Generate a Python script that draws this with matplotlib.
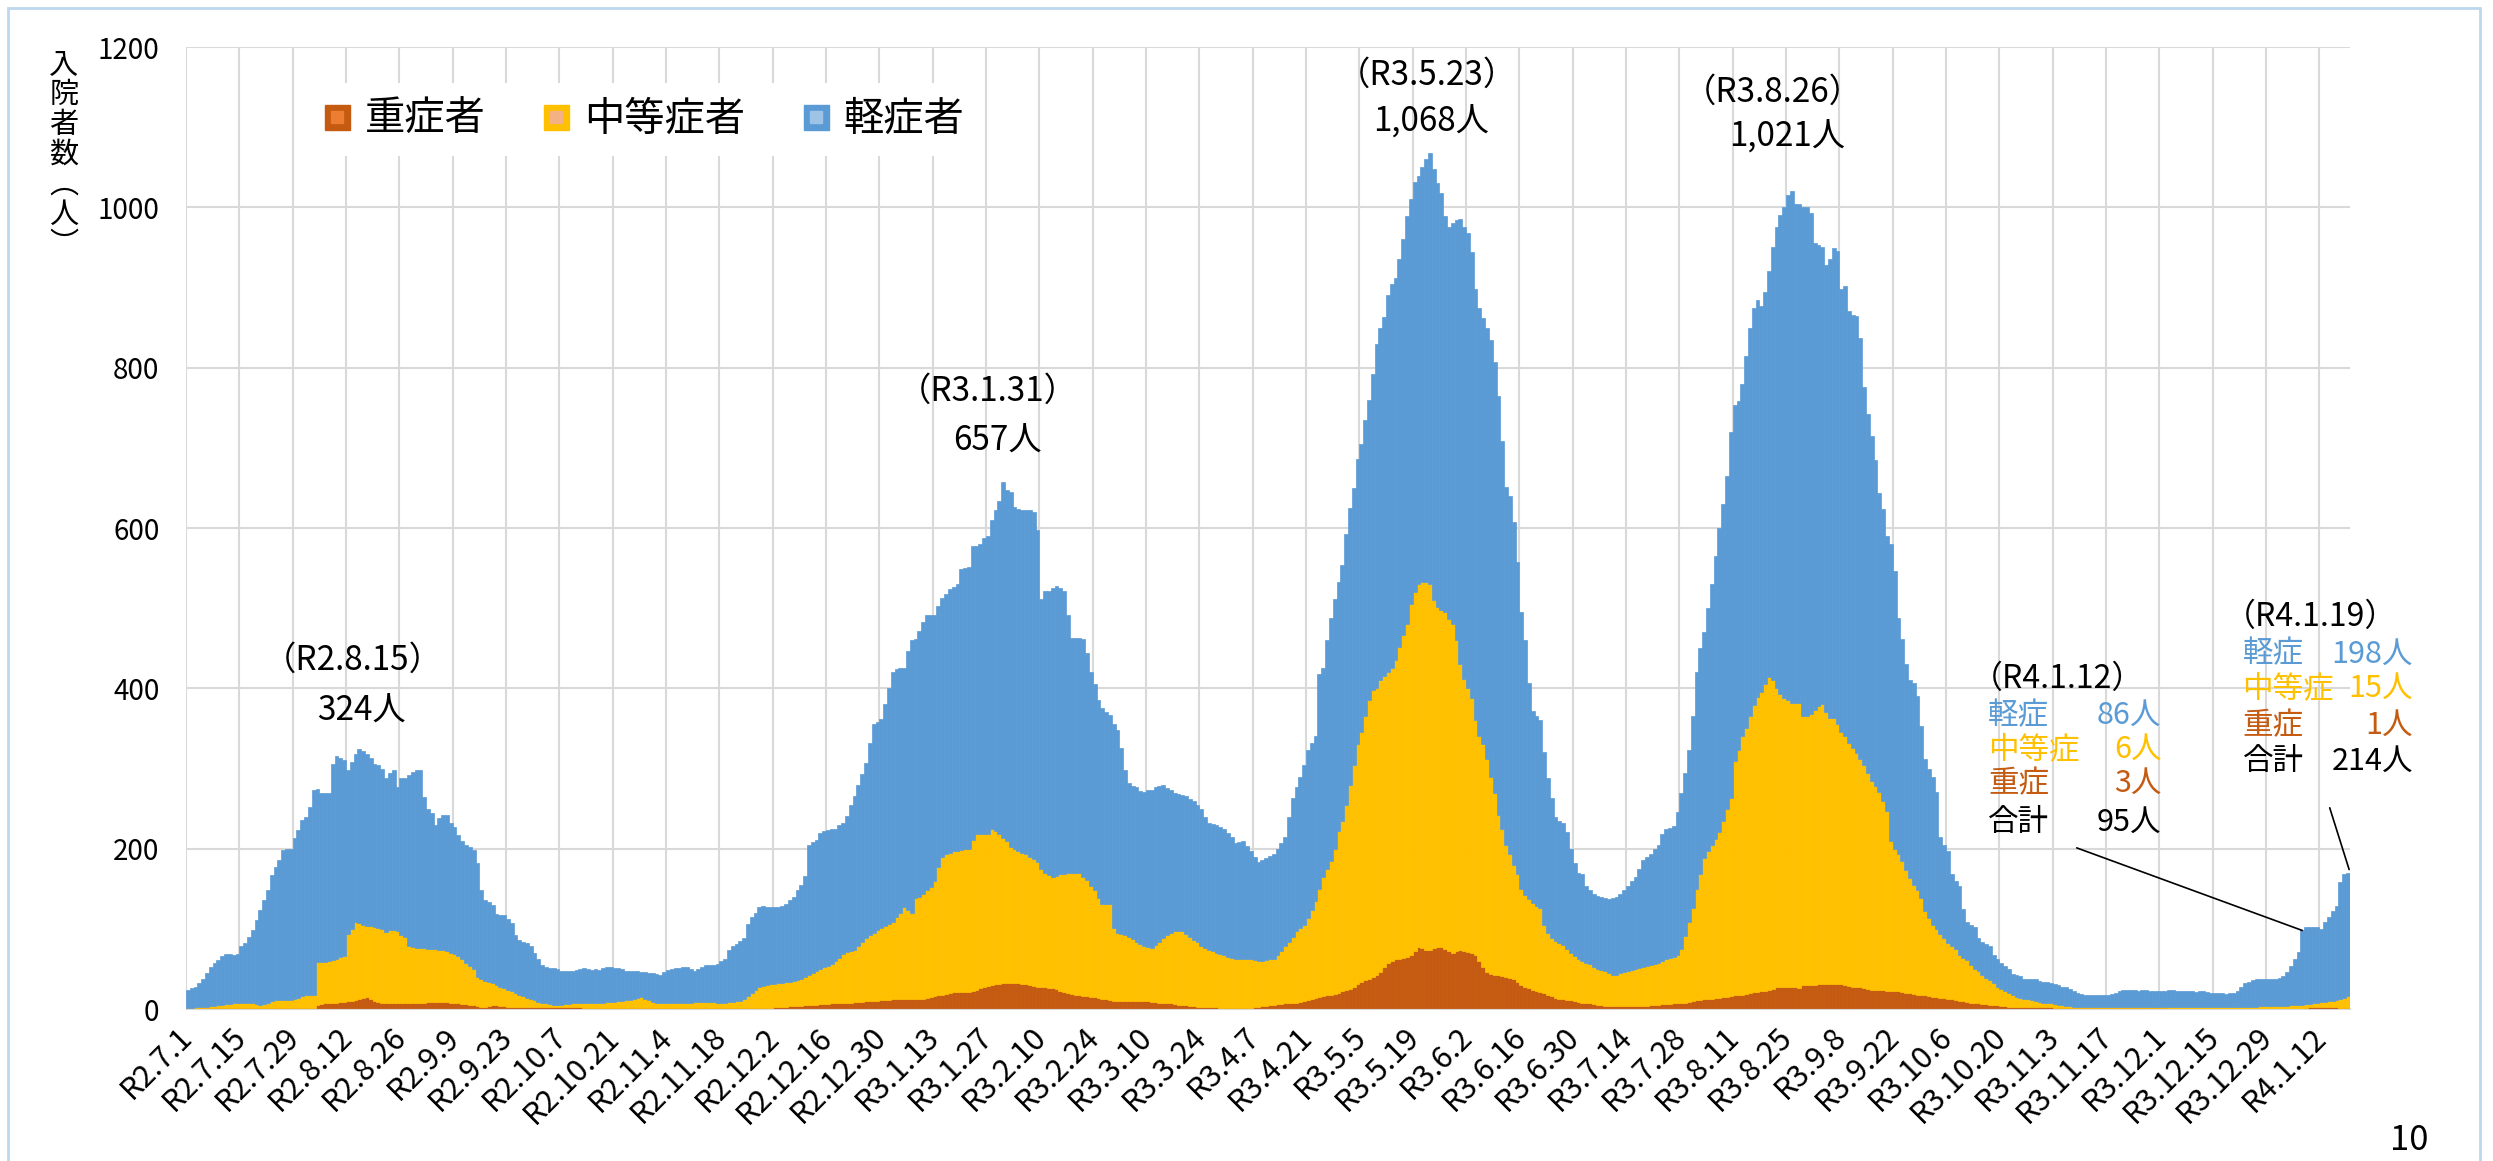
import numpy as np
import matplotlib
matplotlib.use("Agg")
import matplotlib.pyplot as plt
from matplotlib.lines import Line2D
from matplotlib.legend_handler import HandlerTuple
from matplotlib.patches import Rectangle

plt.rcParams['font.family'] = ['Noto Sans CJK JP', 'DejaVu Sans']

# x tick labels, every 14 days from R2.7.1
tick_labels = ["R2.7.1", "R2.7.15", "R2.7.29", "R2.8.12", "R2.8.26", "R2.9.9", "R2.9.23",
               "R2.10.7", "R2.10.21", "R2.11.4", "R2.11.18", "R2.12.2", "R2.12.16", "R2.12.30",
               "R3.1.13", "R3.1.27", "R3.2.10", "R3.2.24", "R3.3.10", "R3.3.24", "R3.4.7",
               "R3.4.21", "R3.5.5", "R3.5.19", "R3.6.2", "R3.6.16", "R3.6.30", "R3.7.14",
               "R3.7.28", "R3.8.11", "R3.8.25", "R3.9.8", "R3.9.22", "R3.10.6", "R3.10.20",
               "R3.11.3", "R3.11.17", "R3.12.1", "R3.12.15", "R3.12.29", "R4.1.12"]

# daily inpatients, R2.7.1 - R4.1.19
severe = (
    [1] * 14 +
    [1] * 14 +
    [1, 1, 1, 1, 1, 1, 5, 6, 7, 7, 8, 8, 9, 9] +
    [10, 10, 11, 12, 14, 15, 12, 10, 9, 8, 8, 7, 7, 7] +
    [7, 7, 7, 7, 7, 8, 8, 9, 9, 9, 9, 9, 9, 8] +
    [8, 7, 6, 6, 5, 5, 4, 3, 3, 4, 5, 5, 4, 4] +
    [3, 3, 3, 3, 3, 3, 3, 2, 2, 2, 2, 2, 2, 2] +
    [2, 2, 2, 2, 2, 2, 1, 1, 1, 1, 1, 1, 1, 1] +
    [1] * 14 +
    [1] * 14 +
    [1] * 14 +
    [2, 3, 3, 3, 4, 4, 4, 4, 5, 5, 5, 5, 6, 6] +
    [6, 7, 7, 7, 8, 8, 8, 9, 9, 9, 10, 10, 10, 10] +
    [11, 11, 11, 12, 12, 12, 12, 12, 12, 12, 12, 13, 14, 15] +
    [16, 17, 18, 19, 20, 21, 21, 21, 21, 21, 22, 24, 26, 28] +
    [29, 30, 31, 31, 32, 33, 33, 33, 32, 31, 31, 30, 29, 28] +
    [28, 27, 26, 26, 25, 23, 21, 20, 19, 18, 17, 16, 16, 15] +
    [15, 14, 13, 12, 11, 10, 10, 10, 10, 10, 10, 10, 10, 10] +
    [10, 9, 9, 8, 8, 8, 7, 6, 5, 5, 5, 4, 4, 3] +
    [3, 3, 2, 2, 2, 1, 1, 1, 1, 1, 1, 1, 1, 1] +
    [2, 3, 4, 4, 5, 5, 6, 6, 7, 7, 8, 8, 9, 10] +
    [11, 12, 14, 15, 16, 17, 18, 19, 20, 22, 24, 25, 28, 31] +
    [34, 36, 38, 40, 42, 46, 52, 58, 60, 62, 63, 64, 65, 67] +
    [72, 77, 76, 74, 74, 76, 77, 77, 75, 72, 70, 72, 74, 73] +
    [71, 70, 68, 60, 52, 46, 44, 42, 42, 41, 40, 39, 38, 34] +
    [30, 28, 26, 24, 22, 21, 20, 18, 16, 14, 13, 12, 11, 11] +
    [10, 9, 8, 7, 7, 6, 5, 5, 4, 4, 4, 4, 4, 4] +
    [4, 4, 4, 4, 4, 4, 5, 5, 5, 6, 6, 6, 7, 7] +
    [8, 8, 9, 10, 11, 11, 12, 13, 13, 14, 14, 15, 15, 16] +
    [17, 18, 18, 19, 20, 21, 21, 22, 23, 24, 25, 27, 28, 28] +
    [28, 28, 27, 26, 30, 30, 30, 30, 31, 31, 31, 31, 31, 31] +
    [31, 30, 29, 28, 27, 27, 26, 25, 24, 24, 24, 24, 23, 23] +
    [23, 22, 21, 20, 20, 19, 18, 17, 17, 16, 15, 15, 14, 14] +
    [13, 12, 11, 10, 10, 9, 8, 7, 7, 6, 6, 5, 5, 5] +
    [4, 4, 3, 3, 3, 2, 2, 2, 2, 2, 2, 2, 2, 2] +
    [1] * 14 +
    [1] * 14 +
    [1, 1] + [0] * 12 +
    [0] * 14 +
    [0] * 10 + [1, 2, 2, 3] +
    [3, 3, 2, 2, 2, 1, 1, 1]
)

moderate = (
    [0, 0, 1, 1, 2, 2, 3, 3, 4, 4, 5, 5, 6, 6] +
    [6, 6, 6, 6, 5, 4, 5, 7, 9, 10, 10, 10, 10, 10] +
    [11, 13, 15, 16, 16, 17, 54, 53, 52, 53, 53, 54, 56, 57] +
    [84, 90, 98, 95, 91, 89, 91, 92, 92, 92, 88, 91, 92, 90] +
    [85, 83, 71, 70, 69, 68, 68, 66, 66, 66, 65, 65, 64, 62] +
    [61, 59, 56, 52, 49, 45, 36, 35, 32, 30, 27, 25, 24, 22] +
    [21, 19, 17, 15, 13, 11, 10, 9, 7, 6, 5, 4, 3, 3] +
    [3, 4, 4, 5, 5, 5, 6, 6, 6, 6, 7, 7, 8, 8] +
    [8, 9, 9, 10, 10, 11, 13, 14, 12, 10, 8, 6, 6, 6] +
    [6, 6, 6, 6, 6, 7, 7, 8, 8, 8, 8, 8, 8, 7] +
    [7, 7, 8, 8, 9, 9, 12, 15, 19, 23, 26, 28, 29, 30] +
    [29, 29, 30, 31, 30, 31, 32, 34, 35, 37, 40, 43, 44, 47] +
    [48, 49, 53, 57, 61, 63, 65, 65, 69, 74, 78, 82, 85, 88] +
    [90, 92, 95, 96, 103, 108, 115, 112, 108, 126, 128, 130, 134, 137] +
    [144, 160, 172, 174, 175, 176, 176, 177, 178, 179, 189, 194, 192, 190] +
    [189, 195, 191, 187, 181, 177, 169, 166, 165, 164, 162, 160, 158, 156] +
    [147, 143, 141, 139, 141, 145, 147, 150, 151, 152, 153, 149, 145, 139] +
    [133, 124, 118, 119, 120, 91, 85, 83, 82, 80, 77, 74, 71, 69] +
    [67, 67, 71, 76, 80, 84, 88, 91, 92, 92, 88, 86, 82, 80] +
    [76, 73, 72, 70, 68, 68, 66, 64, 63, 62, 62, 62, 62, 61] +
    [59, 57, 56, 57, 57, 58, 61, 66, 71, 77, 82, 89, 92, 95] +
    [103, 111, 121, 135, 149, 158, 167, 181, 202, 213, 231, 255, 277, 299] +
    [311, 329, 347, 358, 358, 364, 364, 363, 366, 373, 389, 403, 415, 438] +
    [448, 453, 457, 459, 456, 434, 425, 421, 420, 415, 410, 388, 356, 339] +
    [329, 318, 292, 280, 278, 266, 246, 228, 200, 184, 165, 154, 142, 134] +
    [120, 114, 111, 108, 106, 105, 85, 77, 72, 71, 69, 68, 64, 59] +
    [56, 53, 52, 51, 49, 47, 45, 44, 43, 41, 39, 39, 41, 42] +
    [43, 45, 46, 47, 49, 50, 50, 51, 53, 54, 57, 58, 58, 60] +
    [67, 83, 99, 116, 139, 157, 177, 184, 191, 198, 207, 220, 235, 247] +
    [292, 305, 322, 332, 345, 358, 368, 374, 382, 390, 386, 373, 365, 360] +
    [358, 354, 355, 356, 335, 336, 338, 343, 347, 349, 339, 332, 332, 325] +
    [314, 310, 303, 297, 292, 285, 279, 270, 261, 254, 247, 236, 224, 187] +
    [177, 171, 164, 153, 143, 136, 131, 121, 105, 97, 90, 85, 79, 74] +
    [69, 66, 64, 58, 54, 52, 47, 43, 40, 37, 33, 31, 27, 23] +
    [21, 19, 17, 14, 12, 12, 11, 10, 9, 8, 7, 6, 5, 5] +
    [5, 4, 4, 3, 3, 2, 2, 2, 2, 1, 1, 1, 1, 1] +
    [1] * 14 +
    [1, 1] + [2] * 12 +
    [2, 2, 2, 2, 2, 2, 3, 3, 3, 3, 3, 3, 4, 4] +
    [4, 4, 4, 4, 4, 4, 5, 5, 5, 5, 5, 4, 5, 5] +
    [6, 6, 8, 8, 9, 11, 13, 15]
)

total = (
    [24, 26, 28, 33, 38, 45, 53, 57, 61, 66, 69, 69, 68, 69] +
    [78, 82, 90, 98, 111, 123, 136, 148, 167, 177, 186, 198, 199, 200] +
    [213, 223, 236, 240, 252, 273, 275, 270, 269, 269, 306, 315, 313, 311] +
    [298, 308, 318, 324, 322, 318, 313, 306, 304, 300, 288, 294, 298, 277] +
    [288, 288, 292, 296, 298, 298, 265, 250, 244, 230, 238, 242, 242, 232] +
    [227, 217, 210, 205, 202, 198, 182, 148, 136, 133, 130, 119, 117, 117] +
    [112, 107, 92, 86, 84, 82, 78, 70, 63, 55, 52, 51, 51, 50] +
    [47, 47, 47, 48, 49, 50, 51, 50, 49, 50, 49, 51, 52, 52] +
    [51, 51, 50, 48, 47, 47, 47, 46, 46, 45, 45, 44, 42, 46] +
    [49, 50, 51, 51, 52, 53, 50, 47, 50, 53, 55, 55, 55, 56] +
    [60, 63, 74, 78, 81, 85, 88, 106, 115, 120, 127, 128, 127, 127] +
    [127, 127, 129, 131, 136, 140, 149, 155, 166, 204, 208, 211, 220, 222] +
    [223, 224, 225, 229, 232, 241, 255, 266, 280, 293, 307, 332, 355, 358] +
    [362, 380, 401, 421, 424, 425, 426, 447, 460, 462, 472, 483, 492, 492] +
    [492, 503, 513, 518, 524, 527, 530, 549, 550, 552, 577, 577, 580, 588] +
    [590, 610, 623, 634, 657, 648, 645, 626, 624, 623, 623, 622, 620, 597] +
    [511, 521, 521, 525, 528, 525, 521, 491, 463, 463, 463, 462, 444, 421] +
    [405, 386, 375, 371, 367, 355, 348, 325, 298, 282, 278, 277, 272, 271] +
    [273, 273, 277, 278, 280, 276, 273, 270, 268, 267, 266, 262, 259, 254] +
    [250, 240, 232, 231, 230, 227, 225, 220, 214, 207, 208, 209, 203, 197] +
    [190, 184, 186, 189, 191, 193, 200, 207, 214, 240, 263, 277, 290, 305] +
    [323, 332, 340, 418, 425, 460, 488, 512, 533, 554, 593, 625, 650, 686] +
    [705, 735, 760, 792, 830, 850, 863, 891, 905, 912, 935, 961, 989, 1011] +
    [1032, 1039, 1050, 1060, 1068, 1048, 1030, 1018, 989, 975, 980, 984, 986, 975] +
    [968, 944, 898, 874, 862, 850, 835, 807, 765, 709, 651, 640, 607, 558] +
    [495, 460, 407, 372, 365, 360, 320, 288, 263, 239, 235, 232, 221, 200] +
    [182, 170, 168, 154, 148, 144, 141, 140, 138, 137, 139, 140, 144, 148] +
    [154, 160, 165, 175, 186, 190, 193, 200, 204, 218, 225, 226, 228, 246] +
    [270, 295, 323, 365, 421, 450, 470, 500, 530, 565, 600, 630, 665, 720] +
    [754, 758, 780, 815, 850, 875, 884, 877, 895, 920, 950, 975, 990, 1000] +
    [1015, 1021, 1004, 1004, 1000, 1000, 993, 955, 953, 951, 928, 936, 949, 946] +
    [898, 902, 871, 866, 864, 837, 776, 742, 715, 685, 644, 624, 590, 580] +
    [546, 488, 461, 430, 410, 407, 390, 353, 312, 300, 290, 271, 214, 205] +
    [197, 169, 160, 153, 125, 108, 105, 102, 88, 84, 81, 78, 68, 63] +
    [58, 54, 50, 44, 42, 41, 38, 37, 37, 37, 35, 34, 34, 33] +
    [31, 30, 28, 27, 25, 22, 20, 19, 18, 17, 17, 17, 17, 17] +
    [18, 19, 20, 22, 24, 24, 24, 24, 23, 24, 24, 23, 22, 22] +
    [22, 23, 24, 24, 23, 22, 22, 22, 22, 21, 22, 22, 21, 20] +
    [20, 20, 20, 19, 20, 20, 22, 27, 32, 34, 36, 37, 37, 37] +
    [37, 37, 37, 39, 41, 46, 54, 62, 71, 98, 102, 102, 102, 102] +
    [100, 108, 115, 122, 129, 159, 169, 170]
)

sev = np.array(severe)
mod = np.array(moderate)
tot = np.array(total)
mild = tot - sev - mod
days = np.arange(len(tot))

C_SEV = "#C55A11"
C_MOD = "#FFC000"
C_MILD = "#5B9BD5"

fig = plt.figure(figsize=(24.93, 11.61), dpi=100)
ax = fig.add_axes([0.0746, 0.1309, 0.8680, 0.8286])

ax.bar(days, sev, width=1.0, color=C_SEV, edgecolor=C_SEV, linewidth=0.5)
ax.bar(days, mod, width=1.0, bottom=sev, color=C_MOD, edgecolor=C_MOD, linewidth=0.5)
ax.bar(days, mild, width=1.0, bottom=sev + mod, color=C_MILD, edgecolor=C_MILD, linewidth=0.5)

ax.set_xlim(-0.5, len(tot) - 0.5)
ax.set_ylim(0, 1200)
ax.set_yticks(range(0, 1201, 200))
ax.set_xticks(np.arange(0, len(tick_labels) * 14, 14))
ax.set_xticklabels(tick_labels, rotation=45, ha="right", va="center",
                   rotation_mode="anchor", fontsize=22)
ax.set_xticks(np.arange(-0.5, len(tot), 14), minor=True)
ax.grid(axis="y", color="#D9D9D9", linewidth=1.5)
ax.grid(axis="x", which="minor", color="#D9D9D9", linewidth=1.5)
ax.set_axisbelow(True)
ax.tick_params(axis="both", which="both", length=0)
ax.tick_params(axis="y", labelsize=20, pad=19)
ax.tick_params(axis="x", pad=17)
for s in ["top", "right", "left"]:
    ax.spines[s].set_visible(False)
ax.spines["bottom"].set_color("#D9D9D9")

# y label, written vertically
fig.text(64 / 2493, 1 - 155 / 1161, "入\n院\n者\n数\n︵\n人\n︶", ha="center", va="center",
         fontsize=21, linespacing=1.0)

# legend
handles = [
    (Line2D([], [], ls="", marker="s", ms=18, mfc=C_SEV, mec=C_SEV),
     Line2D([], [], ls="", marker="s", ms=8, mfc="#ED7D31", mec="#ED7D31")),
    (Line2D([], [], ls="", marker="s", ms=18, mfc=C_MOD, mec=C_MOD),
     Line2D([], [], ls="", marker="s", ms=8, mfc="#F4B183", mec="#F4B183")),
    (Line2D([], [], ls="", marker="s", ms=18, mfc=C_MILD, mec=C_MILD),
     Line2D([], [], ls="", marker="s", ms=8, mfc="#9DC3E6", mec="#9DC3E6")),
]
ax.legend(handles, ["重症者", "中等症者", "軽症者"], handler_map={tuple: HandlerTuple(ndivide=1)},
          loc="center", bbox_to_anchor=(0.211, 0.925), ncol=3, fontsize=29,
          frameon=True, facecolor="white", edgecolor="none", framealpha=1, fancybox=False,
          handlelength=0.8, handletextpad=0.3, columnspacing=1.35, borderpad=0.4)

# peak annotations
peaks = [
    (43.4, 435, "（R2.8.15）", 45.5, 372, "324人"),
    (209.9, 771, "（R3.1.31）", 212.4, 709, "657人"),
    (325.2, 1165, "（R3.5.23）", 326.4, 1106, "1,068人"),
    (416.0, 1144, "（R3.8.26）", 419.8, 1088, "1,021人"),
]
for x1, y1, t1, x2, y2, t2 in peaks:
    ax.text(x1, y1, t1, ha="center", va="center", fontsize=24)
    ax.text(x2, y2, t2, ha="center", va="center", fontsize=24)

# latest-day breakdown boxes
row_colors = [C_MILD, C_MOD, C_SEV, "black"]
blocks = [
    (468.0, 412, "（R4.1.12）", 472.5, 518.0, [366, 324, 281, 233],
     ["軽症", "中等症", "重症", "合計"], ["86人", "6人", "3人", "95人"]),
    (534.5, 489, "（R4.1.19）", 539.3, 584.0, [443, 400, 354, 309],
     ["軽症", "中等症", "重症", "合計"], ["198人", "15人", "1人", "214人"]),
]
for hx, hy, head, lx, rx, ys, names, vals in blocks:
    ax.text(hx, hy, head, ha="left", va="center", fontsize=23)
    for y, n, v, c in zip(ys, names, vals, row_colors):
        ax.text(lx, y, n, ha="left", va="center", fontsize=22, color=c)
        ax.text(rx, y, v, ha="right", va="center", fontsize=22, color=c)

ax.annotate("", xy=(555, tot[555]), xytext=(495.8, 201),
            arrowprops=dict(arrowstyle="-", color="black", lw=1.2, shrinkA=0, shrinkB=0))
ax.annotate("", xy=(567.3, tot[-1] + 4), xytext=(562.2, 251),
            arrowprops=dict(arrowstyle="-", color="black", lw=1.2, shrinkA=0, shrinkB=0),
            annotation_clip=False)

# slide frame and page number
fig.add_artist(Rectangle((8 / 2493, -0.1), (2480 - 8) / 2493, 1.1 - 8 / 1161,
                         transform=fig.transFigure, fill=False, ec="#BDD7EE", lw=2))
fig.text(2409 / 2493, 1 - 1141 / 1161, "10", ha="center", va="center", fontsize=25)

fig.savefig("out.png", dpi=100)
